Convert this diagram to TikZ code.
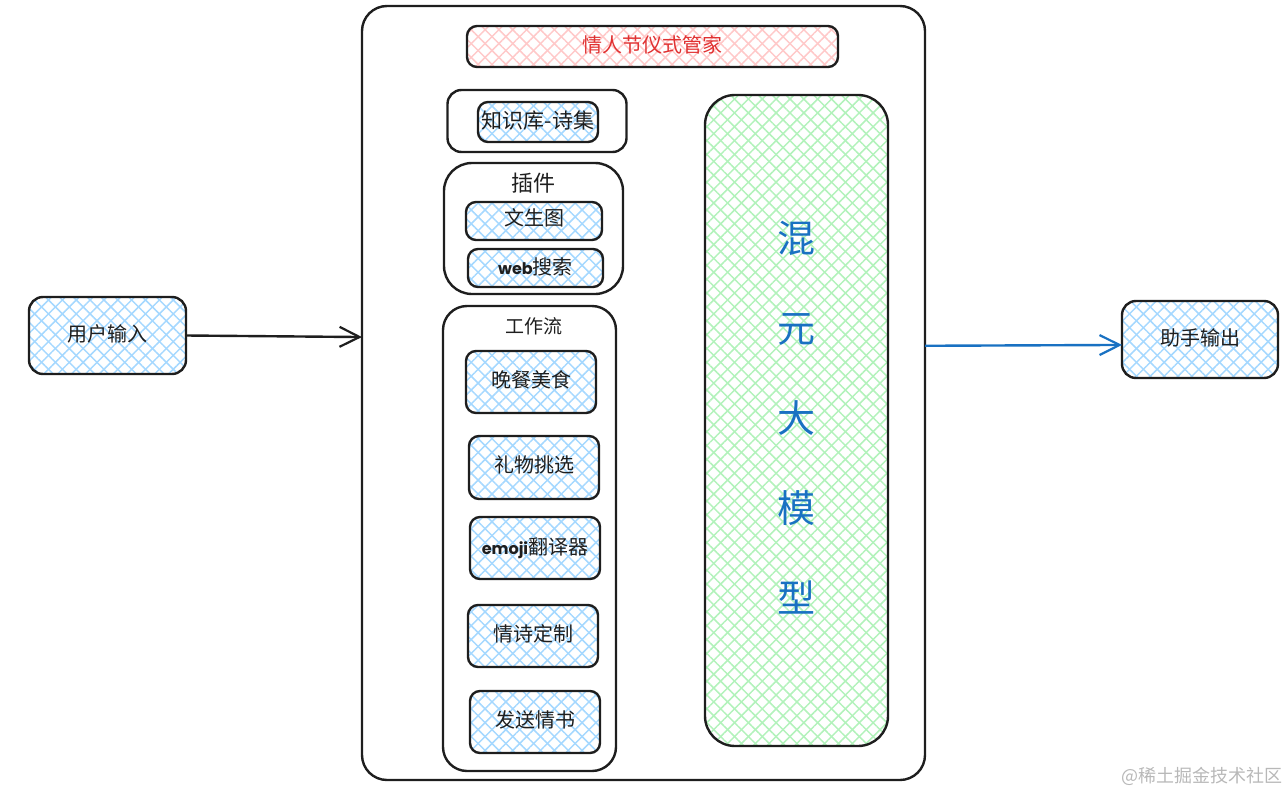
\documentclass[tikz,border=0pt]{standalone}
\usepackage{fontspec}
\setmainfont{Noto Sans CJK SC}
\newfontfamily\latinhand{Poppins}
\usetikzlibrary{arrows.meta,patterns.meta,calc}
\definecolor{ink}{HTML}{1E1E1E}
\definecolor{hatchblue}{HTML}{A5D8FF}
\definecolor{hatchgreen}{HTML}{B2F2BB}
\definecolor{hatchred}{HTML}{FFC9C9}
\definecolor{titlered}{HTML}{E03131}
\definecolor{modelblue}{HTML}{1971C2}
\newcommand\liftup[2]{\raisebox{\dimexpr #1-.38em\relax}[0pt][0pt]{#2}}
\newcommand\handword[1]{{\latinhand\bfseries\fontsize{16}{20}\selectfont #1}}
\tikzset{
  frame/.style={draw=ink,line width=2.4pt,rounded corners=#1,inner sep=0pt,outer sep=0pt,align=center,text=ink},
  frame/.default=12pt,
  hatch/.style={
    preaction={pattern={Lines[angle=45,distance=9.8pt,line width=1.5pt]},pattern color=#1},
    preaction={pattern={Lines[angle=-45,distance=9.8pt,line width=1.5pt]},pattern color=#1}},
  bluebox/.style={frame=10pt,hatch=hatchblue,font=\fontsize{20}{24}\selectfont},
  container/.style={frame=#1},
  caption/.style={text=ink,inner sep=0pt},
  flow/.style={line width=2.4pt,-{Straight Barb[length=20pt,width=20pt,line width=2.2pt]}}
}
\begin{document}
\begin{tikzpicture}[x=1pt,y=-1pt]
\useasboundingbox (0,0) rectangle (1288,792);
% outer frames
\node[container=25pt,minimum width=563pt,minimum height=774pt] (main) at (643.5,393) {};
\node[frame=10pt,hatch=hatchred,minimum width=371pt,minimum height=41pt,text=titlered,font=\fontsize{20}{24}\selectfont] (title) at (652.5,46.5) {\liftup{1.5pt}{情人节仪式管家}};
% knowledge
\node[container=14pt,minimum width=179pt,minimum height=62pt] (kb) at (537,121) {};
\node[bluebox,minimum width=120pt,minimum height=40pt,font=\fontsize{21}{25}\selectfont] (kbitem) at (538,122) {\liftup{1pt}{知识库-诗集}};
% plugins
\node[container=28pt,minimum width=179pt,minimum height=131pt] (plugins) at (533.5,228.5) {};
\node[caption,font=\fontsize{22}{26}\selectfont] (pluginlabel) at (533,183) {插件};
\node[bluebox,minimum width=136pt,minimum height=38pt] (t2i) at (534,221) {\liftup{3pt}{文生图}};
\node[bluebox,minimum width=135pt,minimum height=38pt] (web) at (535.5,268) {\liftup{1pt}{\handword{web}搜索}};
% workflow
\node[container=24pt,minimum width=173pt,minimum height=465pt] (wf) at (529.5,538.5) {};
\node[caption,font=\fontsize{19}{23}\selectfont] (wflabel) at (534,326) {工作流};
\node[bluebox,minimum width=130pt,minimum height=62pt] (dinner) at (531,382) {\liftup{2pt}{晚餐美食}};
\node[bluebox,minimum width=130pt,minimum height=63pt] (gift) at (534,467.5) {\liftup{2.5pt}{礼物挑选}};
\node[bluebox,minimum width=130pt,minimum height=62pt] (emoji) at (535,548) {\liftup{1pt}{\handword{emoji}翻译器}};
\node[bluebox,minimum width=130pt,minimum height=62pt] (poem) at (533,636) {\liftup{2pt}{情诗定制}};
\node[bluebox,minimum width=130pt,minimum height=62pt] (letter) at (535,722) {\liftup{2pt}{发送情书}};
% model
\node[frame=30pt,hatch=hatchgreen,minimum width=183pt,minimum height=651pt] (model) at (796.5,420.5) {};
\node[text=modelblue,inner sep=0pt,align=center,font=\fontsize{38}{90}\selectfont] (modellabel) at (796.5,417.5) {混\\元\\大\\模\\型};
% input / output
\node[bluebox,minimum width=157pt,minimum height=77pt,rounded corners=14pt] (user) at (107.5,335.5) {\liftup{1.5pt}{用户输入}};
\node[bluebox,minimum width=156pt,minimum height=77pt,rounded corners=14pt] (out) at (1200,339.5) {\liftup{1.5pt}{助手输出}};
% connectors
\draw[flow,draw=ink] (user.east) -- ($(main.north west)!0.4277!(main.south west)$);
\draw[flow,draw=modelblue] ($(main.north east)!0.439!(main.south east)$) -- (out.184);
% watermark
\node[text=black!28,inner sep=0pt,font=\fontsize{18}{22}\selectfont] (mark) at (1202,776) {@稀土掘金技术社区};
\end{tikzpicture}
\end{document}
